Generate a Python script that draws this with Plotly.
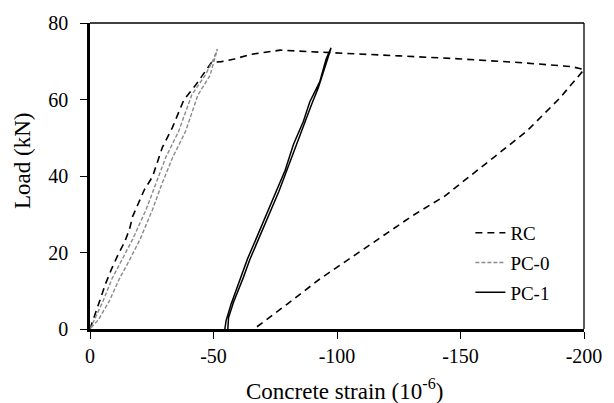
import plotly.graph_objects as go

# RC: loading to peak then unloading path
rc_strain = [0, -1.8, -4.0, -6.4, -8.8, -11.4, -14.0, -16.0, -17.3, -22.0, -25.3, -29.3, -33.3,
             -38.0, -42.7, -49.2, -53.2, -58.5, -65.1, -77.0, -89.0, -100.4, -125.3, -150.2, -175.1,
             -195, -200, -190.1, -176.8, -163.5, -150.2, -143.5, -130.3, -117.5, -104.0, -92.9,
             -80.0, -66.4]
rc_load = [0, 3.5, 7.3, 12.0, 15.8, 19.5, 22.7, 26.1, 29.5, 36.4, 39.8, 47.5, 52.6,
           59.9, 63.7, 69.7, 69.9, 70.6, 71.8, 72.9, 72.5, 72.2, 71.4, 70.6, 69.6,
           68.6, 67.8, 60.3, 51.7, 44.9, 38.1, 34.7, 29.5, 23.8, 18.0, 13.0,
           6.6, 0]

# PC-0
pc0_strain = [0, -2.5, -5.3, -8.8, -13.3, -17.3, -22.7, -26.7, -30.7, -35.9, -41.2, -46.6, -49.6, -51.6,
              -50.1, -48.6, -43.7, -38.7, -33.5, -29.2, -25.3, -20.3, -16.3, -11.8, -7.8, -3.5, 0]
pc0_load = [0, 3.5, 7.3, 13, 18.4, 23.5, 31.2, 38.1, 44.9, 51.7, 61.2, 66.3, 70, 73.2,
            69.5, 66.3, 61.2, 51.7, 44.9, 38.1, 31.2, 23.5, 18.4, 13, 7.3, 2.5, 0]

# PC-1
pc1_strain = [-54.6, -55.1, -57.1, -61.1, -63.8, -67.8, -71.8, -75.7, -79.0, -82.4, -86.4, -89.0,
              -93.0, -95.6, -97.6, -96.9, -94.9, -92.4, -89.9, -86.9, -83.3, -80.0, -76.5, -72.5,
              -68.5, -64.6, -62.1, -58.1, -56.1, -55.8]
pc1_load = [0, 2.2, 6.5, 13.3, 18.4, 24.4, 30.4, 36.4, 41.5, 48.3, 54.3, 59.4,
            64.6, 70.6, 73.5, 72, 68, 63, 59, 54, 48, 42, 36, 30,
            24, 18, 13.5, 7, 3, 0]

x_tickvals = [0, -50, -100, -150, -200]
x_ticktext = ["0", "-50", "-100", "-150", "-200"]
y_tickvals = [0, 20, 40, 60, 80]

font = "Liberation Serif, Times New Roman, serif"

fig = go.Figure()
fig.add_trace(go.Scatter(x=rc_strain, y=rc_load, mode="lines", name="RC", legendgroup="a",
                         line=dict(color="black", width=1.6, dash="7px,5px")))
fig.add_trace(go.Scatter(x=pc0_strain, y=pc0_load, mode="lines", name="PC-0", legendgroup="b",
                         line=dict(color="#8a8a8a", width=1.4, dash="4px,2px")))
fig.add_trace(go.Scatter(x=pc1_strain, y=pc1_load, mode="lines", name="PC-1", legendgroup="c",
                         line=dict(color="black", width=1.5)))

fig.update_layout(
    width=614, height=403,
    margin=dict(l=90, r=21.5, t=16, b=74),
    plot_bgcolor="white", paper_bgcolor="white",
    font=dict(family=font, size=20, color="black"),
    showlegend=True,
    legend=dict(x=0.77, y=0.376, xanchor="left", yanchor="top",
                bgcolor="rgba(0,0,0,0)", font=dict(size=19, family=font),
                traceorder="grouped", tracegroupgap=2, itemwidth=30),
    xaxis=dict(range=[0, -200], tickvals=x_tickvals, ticktext=x_ticktext,
               showgrid=False, zeroline=False, showline=True, linecolor="black",
               linewidth=2.5, ticks="outside", ticklen=7, tickwidth=1.3, tickcolor="black",
               tickfont=dict(size=20)),
    yaxis=dict(range=[0, 80], tickvals=y_tickvals,
               showgrid=False, zeroline=False, showline=True, linecolor="black",
               linewidth=2.5, ticks="outside", ticklen=7, tickwidth=1.3, tickcolor="black",
               ticklabelstandoff=8, tickfont=dict(size=20)),
)
# axis titles
fig.add_annotation(text="Concrete strain (10<sup>-6</sup>)", xref="paper", yref="paper",
                   x=0.516, y=-0.198, xanchor="center", yanchor="middle", showarrow=False,
                   font=dict(size=23, family=font))
fig.add_annotation(text="Load (kN)", xref="paper", yref="paper", textangle=-90,
                   x=-0.137, y=0.55, xanchor="center", yanchor="middle", showarrow=False,
                   font=dict(size=23, family=font))
# top and right frame lines
fig.add_shape(type="line", xref="paper", yref="paper", x0=0, x1=1, y0=1, y1=1,
              line=dict(color="black", width=1.3))
fig.add_shape(type="line", xref="paper", yref="paper", x0=1, x1=1, y0=0, y1=1,
              line=dict(color="black", width=1.3))

fig.write_html("out.html")
